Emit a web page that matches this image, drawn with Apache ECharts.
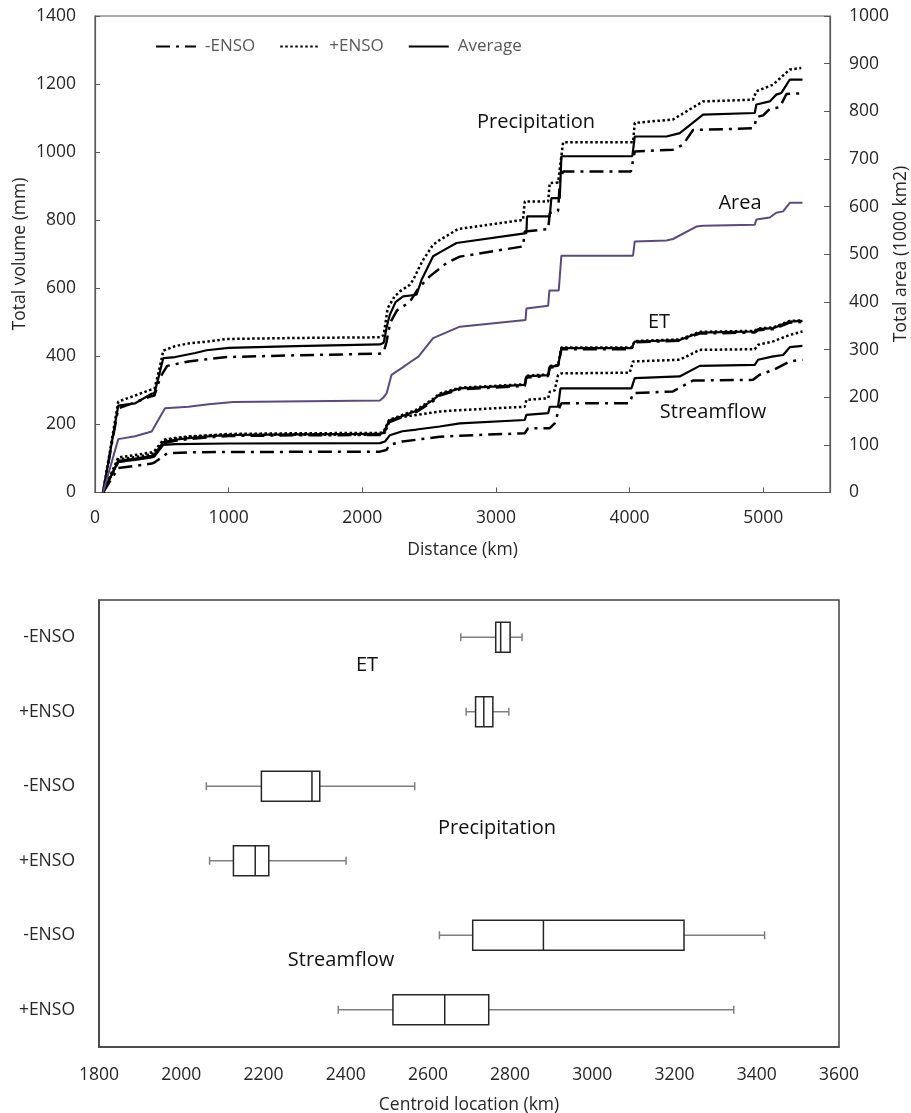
<!DOCTYPE html>
<html>
<head>
<meta charset="utf-8">
<script src="https://cdn.jsdelivr.net/npm/echarts@6/dist/echarts.min.js"></script>
<style>html,body{margin:0;padding:0;background:#fff}#c{width:911px;height:1113px}</style>
</head>
<body>
<div id="c"></div>
<script>
// ---------- Top chart data: [distance km, value] ----------
const precipMinus = [[60,0],[174,247],[300,265],[424,283],[445,285],[490,340],[540,372],[700,385],[850,392],[985,398],[1500,403],[2132,408],[2160,412],[2180,440],[2210,500],[2260,535],[2356,560],[2420,600],[2505,635],[2630,674],[2730,693],[3203,723],[3216,767],[3391,774],[3403,821],[3465,827],[3480,920],[3503,943],[4010,943],[4039,1002],[4325,1007],[4400,1022],[4475,1065],[4924,1070],[4937,1078],[4949,1103],[5000,1108],[5049,1127],[5124,1132],[5174,1171],[5294,1173]];
const precipPlus = [[60,0],[174,267],[300,285],[424,303],[445,305],[480,360],[511,417],[600,430],[700,438],[835,443],[985,451],[1500,454],[2132,456],[2160,462],[2190,541],[2240,575],[2281,591],[2356,610],[2381,625],[2450,680],[2530,728],[2580,742],[2717,774],[3203,801],[3216,855],[3391,855],[3403,909],[3465,911],[3503,1029],[4026,1029],[4039,1086],[4325,1096],[4550,1149],[4924,1154],[4949,1179],[5073,1198],[5199,1243],[5285,1247]];
const precipAvg = [[60,0],[174,255],[300,262],[424,290],[445,292],[480,345],[511,395],[600,398],[750,410],[835,418],[1000,425],[1500,430],[2132,435],[2160,440],[2185,490],[2206,522],[2250,560],[2306,576],[2406,581],[2444,625],[2530,694],[2600,710],[2705,733],[3228,762],[3233,811],[3403,811],[3415,865],[3478,865],[3490,988],[4021,988],[4039,1046],[4276,1046],[4376,1056],[4550,1110],[4937,1115],[4949,1140],[5049,1149],[5098,1169],[5136,1174],[5199,1213],[5294,1213]];

const etMinus = [[60,0],[174,90],[300,97],[424,105],[445,108],[511,145],[600,152],[700,157],[850,162],[1000,166],[1500,168],[2132,169],[2160,172],[2200,206],[2300,222],[2406,237],[2530,268],[2580,285],[2730,303],[3216,313],[3228,338],[3391,342],[3403,367],[3465,369],[3490,421],[4014,421],[4039,441],[4375,446],[4525,467],[4937,470],[4962,477],[5075,480],[5199,499],[5294,501]];
const etPlus = [[60,0],[174,97],[300,104],[424,112],[445,116],[511,152],[600,158],[700,163],[850,168],[1000,172],[1500,174],[2132,175],[2160,179],[2200,213],[2300,228],[2406,243],[2530,275],[2580,291],[2730,308],[3216,318],[3228,343],[3391,347],[3403,372],[3465,374],[3490,426],[4014,426],[4039,445],[4375,450],[4525,472],[4937,475],[4962,482],[5075,485],[5199,504],[5294,506]];
const etAvg = [[60,0],[174,93],[300,100],[424,108],[445,112],[511,148],[600,155],[700,160],[850,165],[1000,169],[1500,171],[2132,172],[2160,176],[2200,210],[2300,225],[2406,240],[2530,272],[2580,288],[2730,306],[3216,316],[3228,341],[3391,345],[3403,370],[3465,372],[3490,424],[4014,424],[4039,443],[4375,448],[4525,470],[4937,473],[4962,480],[5075,483],[5199,502],[5294,504]];

const sfMinus = [[60,0],[174,72],[300,78],[424,85],[445,88],[540,115],[700,118],[1000,119],[2132,120],[2180,125],[2206,140],[2300,150],[2406,155],[2580,164],[2730,167],[3216,174],[3241,189],[3403,189],[3440,203],[3478,252],[3490,262],[4001,262],[4026,292],[4325,297],[4475,329],[4924,331],[4974,346],[5075,360],[5199,385],[5294,390]];
const sfPlus = [[60,0],[174,103],[300,110],[424,118],[445,122],[511,155],[600,160],[700,165],[1000,170],[1500,170],[2132,170],[2170,176],[2206,212],[2300,222],[2406,228],[2580,238],[2730,242],[3216,252],[3228,272],[3391,277],[3403,296],[3440,300],[3465,345],[3490,350],[4001,352],[4026,385],[4375,390],[4525,419],[4937,421],[4962,434],[5075,444],[5199,463],[5294,473]];
const sfAvg = [[60,0],[174,90],[300,96],[424,103],[445,106],[511,140],[600,142],[1000,144],[2132,145],[2170,150],[2206,168],[2300,180],[2406,185],[2580,194],[2730,203],[3216,213],[3228,228],[3391,233],[3403,252],[3465,252],[3483,306],[4014,306],[4039,336],[4375,341],[4525,372],[4937,375],[4962,390],[5075,400],[5149,404],[5199,427],[5294,431]];

// Area (1000 km2), right axis
const areaData = [[60,0],[174,112],[300,118],[424,128],[524,177],[700,180],[850,185],[1035,190],[2132,193],[2160,200],[2182,208],[2219,247],[2300,262],[2381,278],[2420,285],[2530,324],[2730,348],[3222,362],[3228,386],[3391,392],[3400,424],[3470,424],[3490,497],[4026,497],[4039,527],[4276,529],[4325,532],[4500,558],[4550,560],[4937,562],[4949,573],[5049,577],[5098,587],[5149,590],[5199,608],[5294,608]];

const legendNames = ['-ENSO', '+ENSO', 'Average'];

// ---------- Bottom chart data ----------
const rowLabels = ['-ENSO', '+ENSO', '-ENSO', '+ENSO', '-ENSO', '+ENSO'];
// [min, Q1, median, Q3, max] centroid location (km)
const etMinusBox = [2680, 2765, 2777, 2800, 2829];
const etPlusBox = [2693, 2716, 2736, 2758, 2797];
const pMinusBox = [2061, 2195, 2318, 2337, 2568];
const pPlusBox = [2069, 2127, 2180, 2213, 2401];
const sMinusBox = [2628, 2709, 2881, 3223, 3419];
const sPlusBox = [2382, 2515, 2641, 2748, 3344];
const boxRows = [etMinusBox, etPlusBox, pMinusBox, pPlusBox, sMinusBox, sPlusBox];

const FONT = 'Open Sans';
const dashDot = [14, 6, 3, 6];
const dotted = [2.5, 2.5];

function lineSeries(name, data, type, width) {
  return {
    name: name, type: 'line', data: data, xAxisIndex: 0, yAxisIndex: 0,
    symbol: 'none', showSymbol: false, silent: true,
    lineStyle: { color: '#000', width: width, type: type },
    itemStyle: { color: '#000' }
  };
}

function renderBox(params, api) {
  const c = api.value(0);
  const p = [1, 2, 3, 4, 5].map(d => api.coord([api.value(d), c]));
  const band = api.size([0, 1])[1];
  const h = band * 0.4;
  const y = p[0][1];
  const cap = 4;
  const grey = { stroke: '#7f7f7f', lineWidth: 1.5 };
  return {
    type: 'group',
    children: [
      { type: 'line', shape: { x1: p[0][0], y1: y, x2: p[1][0], y2: y }, style: grey },
      { type: 'line', shape: { x1: p[3][0], y1: y, x2: p[4][0], y2: y }, style: grey },
      { type: 'line', shape: { x1: p[0][0], y1: y - cap, x2: p[0][0], y2: y + cap }, style: grey },
      { type: 'line', shape: { x1: p[4][0], y1: y - cap, x2: p[4][0], y2: y + cap }, style: grey },
      { type: 'rect', shape: { x: p[1][0], y: y - h / 2, width: p[3][0] - p[1][0], height: h },
        style: { fill: '#fff', stroke: '#262626', lineWidth: 1.5 } },
      { type: 'line', shape: { x1: p[2][0], y1: y - h / 2, x2: p[2][0], y2: y + h / 2 },
        style: { stroke: '#262626', lineWidth: 1.5 } }
    ]
  };
}

const chart = echarts.init(document.getElementById('c'), null, { renderer: 'canvas' });

const plain = v => String(v);
const labelStyle = { fontFamily: FONT, fontSize: 17.5, color: '#262626' };
const nameStyle = { fontFamily: FONT, fontSize: 17.5, color: '#262626' };

function annot(text, x, y, size, rot) {
  return { type: 'text', x: x, y: y, rotation: rot || 0, silent: true,
    style: { text: text, fontFamily: FONT, fontSize: size || 20, fill: size ? '#262626' : '#111', align: 'center', verticalAlign: 'middle' } };
}

chart.setOption({
  animation: false,
  backgroundColor: '#fff',
  textStyle: { fontFamily: FONT },
  legend: {
    data: legendNames, left: 150, top: 33, itemWidth: 40, itemHeight: 14, itemGap: 24,
    itemStyle: { opacity: 0, color: 'rgba(0,0,0,0)', borderWidth: 0 },
    textStyle: { fontFamily: FONT, fontSize: 17, color: '#595959', padding: [0, 0, 0, 4] },
    selectedMode: false
  },
  grid: [
    { left: 95, right: 81, top: 16, bottom: 620.5, outerBoundsMode: 'none', containLabel: false,
      show: true, borderColor: '#595959', borderWidth: 1.2, backgroundColor: 'transparent' },
    { left: 99, right: 72, top: 600, bottom: 66, outerBoundsMode: 'none', containLabel: false,
      show: true, borderColor: '#404040', borderWidth: 1.5, backgroundColor: 'transparent' }
  ],
  xAxis: [
    { type: 'value', gridIndex: 0, min: 0, max: 5500, interval: 1000,
      name: 'Distance (km)', nameLocation: 'middle', nameGap: 49, nameTextStyle: nameStyle,
      axisLine: { show: true, lineStyle: { color: '#595959', width: 1.2 } },
      axisTick: { show: true, inside: true, length: 5, lineStyle: { color: '#595959' } },
      axisLabel: Object.assign({ margin: 17, showMaxLabel: false, formatter: plain }, labelStyle),
      splitLine: { show: false } },
    { type: 'value', gridIndex: 1, min: 1800, max: 3600, interval: 200,
      name: 'Centroid location (km)', nameLocation: 'middle', nameGap: 49, nameTextStyle: nameStyle,
      axisLine: { show: true, lineStyle: { color: '#404040', width: 1.5 } },
      axisTick: { show: false },
      axisLabel: Object.assign({ margin: 19, formatter: plain }, labelStyle),
      splitLine: { show: false } }
  ],
  yAxis: [
    { type: 'value', gridIndex: 0, min: 0, max: 1400, interval: 200, position: 'left',
      axisLine: { show: true, lineStyle: { color: '#595959', width: 1.2 } },
      axisTick: { show: true, inside: true, length: 5, lineStyle: { color: '#595959' } },
      axisLabel: Object.assign({ margin: 19, formatter: plain }, labelStyle),
      splitLine: { show: false } },
    { type: 'value', gridIndex: 0, min: 0, max: 1000, interval: 100, position: 'right',
      axisLine: { show: true, lineStyle: { color: '#595959', width: 1.2 } },
      axisTick: { show: true, inside: true, length: 6, lineStyle: { color: '#595959' } },
      axisLabel: Object.assign({ margin: 19, formatter: plain }, labelStyle),
      splitLine: { show: false } },
    { type: 'category', gridIndex: 1, inverse: true, boundaryGap: true,
      data: rowLabels.map((l, i) => String(i)),
      axisLine: { show: true, lineStyle: { color: '#404040', width: 1.5 } },
      axisTick: { show: false },
      axisLabel: Object.assign({ margin: 24, formatter: (v, i) => rowLabels[i] }, labelStyle),
      splitLine: { show: false } }
  ],
  series: [
    lineSeries('-ENSO', precipMinus, dashDot, 2.5),
    lineSeries('+ENSO', precipPlus, dotted, 2.5),
    lineSeries('Average', precipAvg, 'solid', 2.2),
    lineSeries('-ENSO', etMinus, dashDot, 2.5),
    lineSeries('+ENSO', etPlus, dotted, 2.5),
    lineSeries('Average', etAvg, 'solid', 2.2),
    lineSeries('-ENSO', sfMinus, dashDot, 2.5),
    lineSeries('+ENSO', sfPlus, dotted, 2.5),
    lineSeries('Average', sfAvg, 'solid', 2.2),
    { name: 'Area', type: 'line', data: areaData, xAxisIndex: 0, yAxisIndex: 1,
      symbol: 'none', showSymbol: false, silent: true,
      lineStyle: { color: '#5b4a80', width: 2 }, itemStyle: { color: '#5b4a80' } },
    { name: 'Centroid', type: 'custom', xAxisIndex: 1, yAxisIndex: 2, silent: true,
      renderItem: renderBox,
      encode: { x: [1, 2, 3, 4, 5], y: 0 },
      data: boxRows.map((r, i) => [i].concat(r)) }
  ],
  graphic: [
    annot('Total volume (mm)', 20, 254, 17.5, Math.PI / 2),
    annot('Total area (1000 km2)', 901, 254, 17.5, Math.PI / 2),
    annot('Precipitation', 536, 122),
    annot('Area', 740, 203),
    annot('ET', 659, 322),
    annot('Streamflow', 713, 412),
    annot('ET', 367, 665),
    annot('Precipitation', 497, 828),
    annot('Streamflow', 341, 960)
  ]
});
</script>
</body>
</html>
